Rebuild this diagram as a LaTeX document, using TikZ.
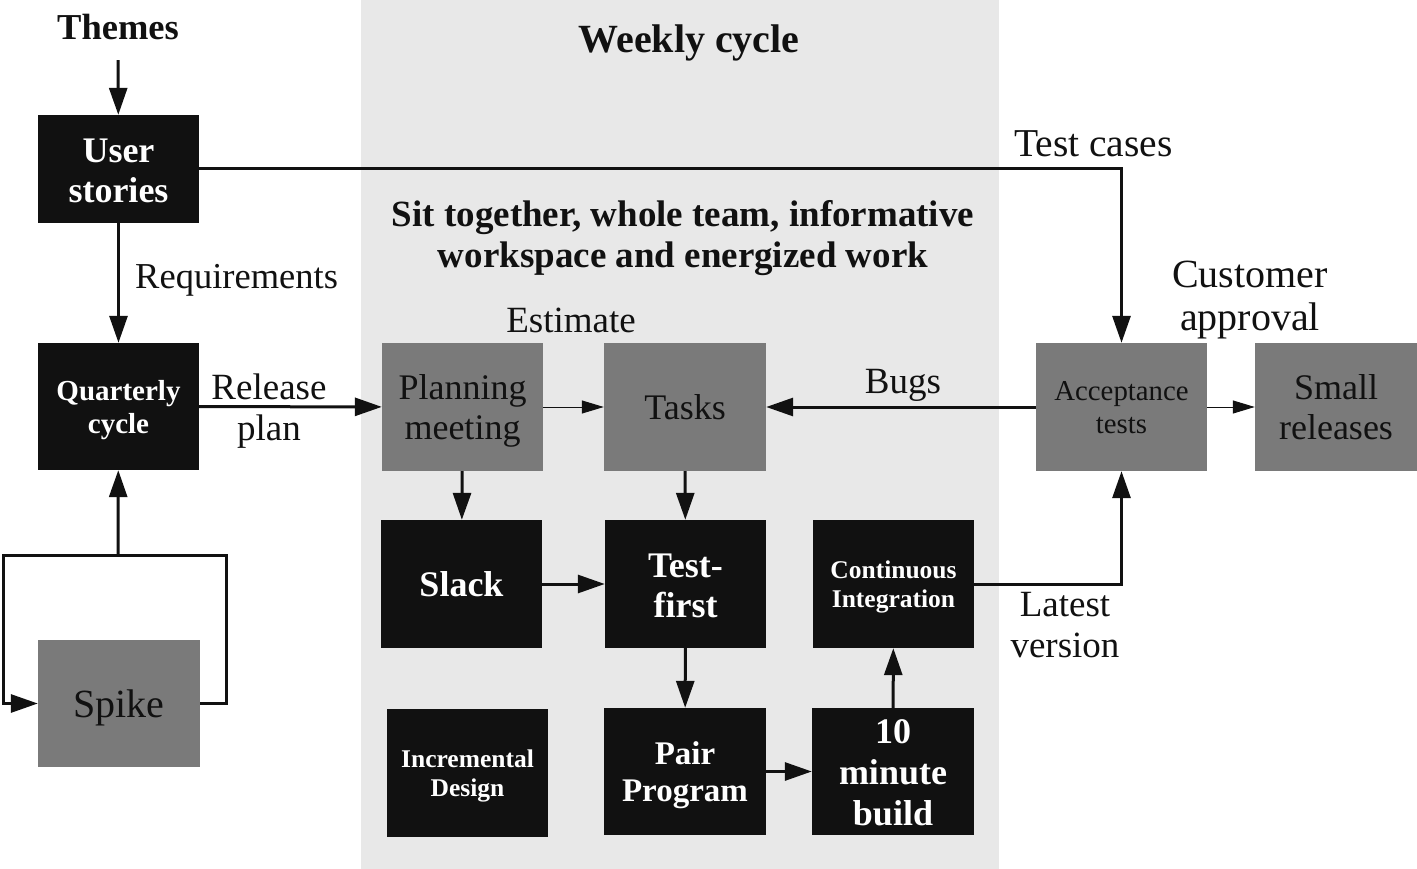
\documentclass[tikz,border=0pt]{standalone}
\usepackage{fontspec}
\setmainfont{Liberation Serif}
\usetikzlibrary{arrows.meta}
\definecolor{bgc}{HTML}{E8E8E8}
\definecolor{boxgray}{HTML}{7A7A7A}
\definecolor{ink}{HTML}{111111}
\tikzset{
  blackbox/.style={fill=ink, inner sep=0pt},
  graybox/.style={fill=boxgray, inner sep=0pt},
  btxt/.style={text=white, inner sep=0pt, align=center, font=\fontsize{36}{40}\selectfont\bfseries},
  gtxt/.style={text=ink, inner sep=0pt, align=center, font=\fontsize{36}{40}\selectfont},
  lbl/.style={text=ink, inner sep=0pt, align=center, font=\fontsize{37}{41}\selectfont},
  thick line/.style={draw=ink, line width=3pt},
  arr/.style={draw=ink, line width=3pt, -{Triangle[length=27pt,width=18pt]}},
  thinarr/.style={draw=ink, line width=1pt, -{Triangle[length=22pt,width=13pt]}},
}
\begin{document}
\begin{tikzpicture}[x=1pt,y=-1pt]
\useasboundingbox (0,0) rectangle (1417,869);
\fill[bgc] (361,0) rectangle (999,869);

% titles and labels
\node[lbl, font=\fontsize{36.5}{41}\selectfont\bfseries] (themes) at (118,27) {Themes};
\node[lbl, font=\fontsize{40}{44}\selectfont\bfseries] (weekly) at (689,43) {Weekly cycle};
\node[lbl, font=\fontsize{37}{41}\selectfont\bfseries] (sit) at (683,238) {Sit together, whole team, informative\\workspace and energized work};

% boxes
\node[blackbox, minimum width=161pt, minimum height=108pt,
  label={[btxt, yshift=-2pt]center:User\\stories}] (us) at (118.5,169) {};
\node[blackbox, minimum width=161pt, minimum height=127pt,
  label={[btxt, yshift=-4pt, font=\fontsize{29}{33}\selectfont\bfseries]center:Quarterly\\cycle}] (qc) at (118.5,406.5) {};
\node[graybox, minimum width=162pt, minimum height=127pt,
  label={[gtxt, yshift=-4pt, font=\fontsize{40}{44}\selectfont]center:Spike}] (spike) at (119,703.5) {};
\node[graybox, minimum width=161pt, minimum height=128pt,
  label={[gtxt, yshift=-4pt]center:Planning\\meeting}] (pm) at (462.5,407) {};
\node[graybox, minimum width=162pt, minimum height=128pt,
  label={[gtxt]center:Tasks}] (tasks) at (685,407) {};
\node[graybox, minimum width=171pt, minimum height=128pt,
  label={[gtxt, yshift=-1pt, font=\fontsize{28.8}{33}\selectfont]center:Acceptance\\tests}] (at) at (1121.5,407) {};
\node[graybox, minimum width=162pt, minimum height=128pt,
  label={[gtxt]center:Small\\releases}] (sr) at (1336,407) {};
\node[blackbox, minimum width=161pt, minimum height=128pt,
  label={[btxt]center:Slack}] (slack) at (461.5,584) {};
\node[blackbox, minimum width=161pt, minimum height=128pt,
  label={[btxt, yshift=-2pt]center:Test-\\first}] (tf) at (685.5,584) {};
\node[blackbox, minimum width=161pt, minimum height=128pt,
  label={[btxt, yshift=-3pt, font=\fontsize{25.5}{29.5}\selectfont\bfseries]center:Continuous\\Integration}] (ci) at (893.5,584) {};
\node[blackbox, minimum width=161pt, minimum height=128pt,
  label={[btxt, yshift=-3pt, font=\fontsize{25.5}{29}\selectfont\bfseries]center:Incremental\\Design}] (id) at (467.5,773) {};
\node[blackbox, minimum width=162pt, minimum height=127pt,
  label={[btxt, yshift=-4pt, font=\fontsize{33}{37}\selectfont\bfseries]center:Pair\\Program}] (pp) at (685,771.5) {};
\node[blackbox, minimum width=162pt, minimum height=127pt,
  label={[btxt, yshift=-1pt, font=\fontsize{36}{41}\selectfont\bfseries]center:10\\minute\\build}] (tmb) at (893,771.5) {};

% connectors
\draw[arr, shorten <=20pt] (themes) -- (us);
\draw[arr] (us) -- (qc);
\node[lbl, font=\fontsize{36.5}{41}\selectfont, anchor=west] (req) at (135,280) {Requirements};
\draw[arr] (us.east) -| (at.north);
\node[lbl, font=\fontsize{39.5}{44}\selectfont, anchor=west] (tc) at (1014,144) {Test cases};
\draw[arr] (qc) -- (pm);
\node[lbl] (rp) at (269,411) {Release\\plan};
\draw[thinarr] (pm) -- (tasks);
\node[lbl] (est) at (571,320) {Estimate};
\draw[arr] (at) -- (tasks);
\node[lbl] (bugs) at (903,385) {Bugs};
\draw[thinarr] (at) -- (sr);
\node[lbl, font=\fontsize{40}{43}\selectfont] (ca) at (1250,300) {Customer\\approval};
\draw[arr] (pm) -- (slack);
\draw[arr] (tasks) -- (tf);
\draw[arr] (slack) -- (tf);
\draw[arr] (tf) -- (pp);
\draw[arr] (pp) -- (tmb);
\draw[arr] (tmb) -- (ci);
\draw[arr] (ci.east) -| (at.south);
\node[lbl] (lv) at (1065,625) {Latest\\version};

% spike loop
\coordinate (j) at (118,555);
\draw[thick line] (spike.east) -- ++(26,0) |- (j);
\draw[arr] (j) -- (qc);
\draw[arr] (j) -- ++(-115,0) |- (spike.west);
\end{tikzpicture}
\end{document}
